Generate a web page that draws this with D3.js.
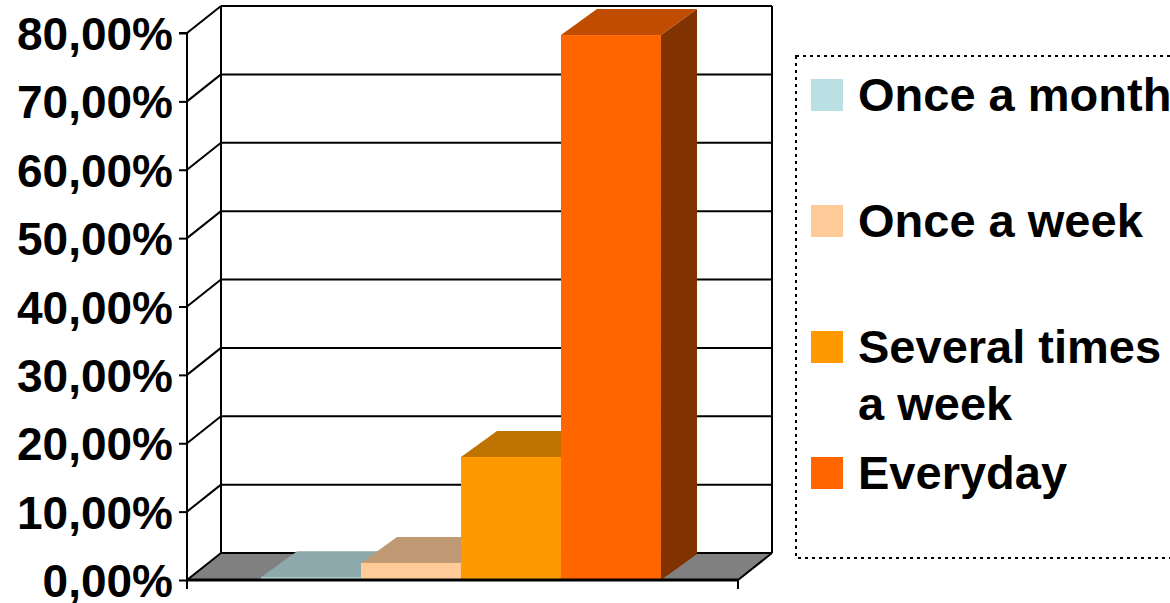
<!DOCTYPE html>
<html>
<head>
<meta charset="utf-8">
<script src="https://cdn.jsdelivr.net/npm/d3@7"></script>
<style>
  html, body { margin: 0; padding: 0; background: #fff; }
  svg { display: block; font-family: "Liberation Sans", Arial, sans-serif; }
</style>
</head>
<body>
<svg id="chart" width="1170" height="603"></svg>
<script>
// Survey answers: how often, share of respondents
const series = ["Once a month", "Once a week", "Several times a week", "Everyday"];
const shares = [0.004, 0.025, 0.180, 0.797];
const tickValues = [0, 0.1, 0.2, 0.3, 0.4, 0.5, 0.6, 0.7, 0.8];
const legendLines = [["Once a month"], ["Once a week"], ["Several times", "a week"], ["Everyday"]];

// face colours: front, top, side
const frontColors = ["#BBE0E3", "#FFCC99", "#FF9900", "#FF6600"];
const topColors   = ["#8EA9AB", "#BF9973", "#BF7300", "#BF4C00"];
const sideColors  = ["#8CA8AA", "#BF9973", "#BF7300", "#803300"];

const svg = d3.select("#chart");

// front plane of the 3D box
const x0 = 187, x1 = 738;
const y = d3.scaleLinear().domain([0, 0.8]).range([580, 33]);
// depth offset of the back wall / bar depth
const dX = 34, dY = -27;
const bX = 36, bY = -26;

const x = d3.scaleBand().domain(series).range([x0, x1])
  .paddingInner(0).paddingOuter(0.755).align(0.49);

const fmt = d3.formatLocale({ decimal: ",", thousands: ".", grouping: [3], currency: ["", "€"] }).format(".2%");

const pts = p => p.map(d => d.join(",")).join(" ");

// floor
svg.append("polygon")
  .attr("points", pts([[x0, y(0)], [x1, y(0)], [x1 + dX, y(0) + dY], [x0 + dX, y(0) + dY]]))
  .attr("fill", "#808080");

// back wall gridlines and side wall diagonals
const grid = svg.append("g").attr("stroke", "#000").attr("stroke-width", 2).attr("fill", "none");
grid.selectAll("line.back").data(tickValues).join("line")
  .attr("x1", x0 + dX).attr("x2", x1 + dX)
  .attr("y1", d => y(d) + dY).attr("y2", d => y(d) + dY);
grid.selectAll("line.side").data(tickValues).join("line")
  .attr("x1", x0).attr("x2", x0 + dX)
  .attr("y1", d => y(d)).attr("y2", d => y(d) + dY);
// back wall verticals
grid.append("line").attr("x1", x0 + dX).attr("x2", x0 + dX)
  .attr("y1", y(0.8) + dY).attr("y2", y(0) + dY);
grid.append("line").attr("x1", x1 + dX).attr("x2", x1 + dX)
  .attr("y1", y(0.8) + dY).attr("y2", y(0) + dY);
// right floor edge
grid.append("line").attr("x1", x1).attr("x2", x1 + dX)
  .attr("y1", y(0)).attr("y2", y(0) + dY);

// 3D bars
const bars = svg.append("g");
series.forEach((s, i) => {
  const xl = x(s), xr = x(s) + x.bandwidth();
  const yt = y(shares[i]), yb = y(0);
  const g = bars.append("g");
  g.append("polygon").attr("fill", sideColors[i])
    .attr("points", pts([[xr, yt], [xr + bX, yt + bY], [xr + bX, yb + bY], [xr, yb]]));
  g.append("polygon").attr("fill", topColors[i])
    .attr("points", pts([[xl, yt], [xr, yt], [xr + bX, yt + bY], [xl + bX, yt + bY]]));
  g.append("rect").attr("fill", frontColors[i])
    .attr("x", xl).attr("y", yt).attr("width", xr - xl).attr("height", yb - yt);
});

// front floor edge with category boundary ticks
const base = svg.append("g").attr("stroke", "#000");
base.append("line").attr("x1", x0).attr("x2", x1).attr("y1", y(0)).attr("y2", y(0)).attr("stroke-width", 3);
base.selectAll("line.tick").data([x0, x1]).join("line")
  .attr("x1", d => d).attr("x2", d => d).attr("y1", y(0)).attr("y2", y(0) + 9).attr("stroke-width", 2);

// value axis
const axis = svg.append("g").attr("transform", `translate(${x0},0)`)
  .call(d3.axisLeft(y).tickValues(tickValues).tickFormat(fmt).tickSize(8).tickPadding(6));
axis.select(".domain").attr("stroke-width", 2).attr("d", `M-8,${y(0.8)}H0V${y(0)}`);
axis.selectAll(".tick line").attr("stroke-width", 2);
axis.selectAll(".tick text")
  .attr("font-size", 46).attr("font-weight", "bold").attr("fill", "#000")
  .attr("font-family", "'Liberation Sans', Arial, sans-serif").attr("dy", "0.36em");

// legend
const legend = svg.append("g");
legend.append("rect")
  .attr("x", 796).attr("y", 56).attr("width", 420).attr("height", 502)
  .attr("fill", "none").attr("stroke", "#000").attr("stroke-width", 2)
  .attr("stroke-dasharray", "3,4");
const baselines = [111, 237, 363, 489];
legendLines.forEach((lines, i) => {
  legend.append("rect").attr("x", 811).attr("y", baselines[i] - 32)
    .attr("width", 32).attr("height", 32).attr("fill", frontColors[i]);
  const t = legend.append("text").attr("x", 858).attr("y", baselines[i])
    .attr("font-size", 47).attr("font-weight", "bold").attr("fill", "#000");
  lines.forEach((ln, j) => {
    t.append("tspan").attr("x", 858).attr("dy", j === 0 ? 0 : 57).text(ln);
  });
});
</script>
</body>
</html>
